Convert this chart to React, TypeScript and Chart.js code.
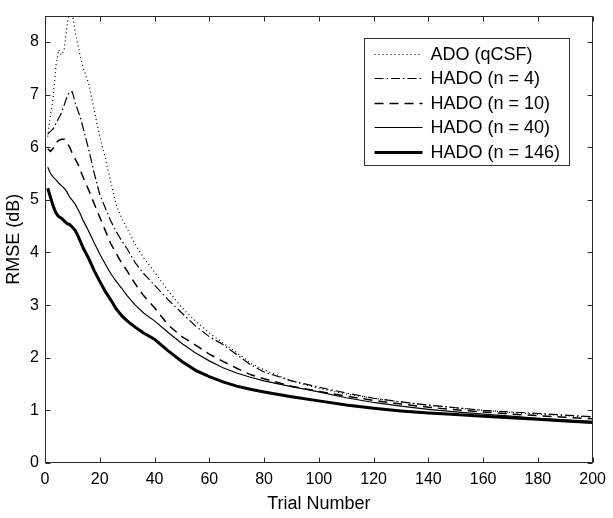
import React, { useEffect, useRef } from "react";
import { Chart, registerables } from "chart.js";

Chart.register(...registerables);

// ---- Data ----
const trials = [1, 2, 3, 4, 5, 6, 7, 8, 9, 10, 11, 12, 13, 14, 15, 16, 18, 20, 22, 24, 26, 28, 30, 33, 36, 40, 45, 50, 55, 60, 65, 70, 75, 80, 90, 100, 110, 120, 130, 140, 150, 160, 170, 180, 190, 200];

const adoQcsf = [6.2, 6.6, 6.95, 7.55, 7.85, 7.75, 7.85, 8.3, 8.6, 8.55, 8.2, 7.95, 7.7, 7.5, 7.35, 7.2, 6.7, 6.2, 5.8, 5.35, 4.9, 4.65, 4.45, 4.15, 3.9, 3.63, 3.27, 2.95, 2.7, 2.47, 2.28, 2.1, 1.9, 1.77, 1.56, 1.42, 1.31, 1.23, 1.16, 1.1, 1.05, 1.0, 0.96, 0.93, 0.9, 0.87];

const hado4 = [6.25, 6.3, 6.35, 6.45, 6.55, 6.65, 6.8, 6.95, 7.05, 7.05, 6.85, 6.7, 6.55, 6.35, 6.15, 5.95, 5.5, 5.1, 4.85, 4.6, 4.4, 4.22, 4.07, 3.8, 3.6, 3.38, 3.1, 2.85, 2.6, 2.4, 2.25, 2.06, 1.87, 1.73, 1.56, 1.44, 1.33, 1.23, 1.16, 1.1, 1.05, 1.0, 0.97, 0.94, 0.91, 0.88];

const hado10 = [5.97, 5.92, 5.98, 6.08, 6.13, 6.15, 6.15, 6.08, 6.0, 5.88, 5.78, 5.68, 5.55, 5.42, 5.3, 5.18, 4.92, 4.67, 4.42, 4.17, 3.98, 3.8, 3.65, 3.4, 3.18, 2.95, 2.62, 2.4, 2.24, 2.07, 1.93, 1.8, 1.68, 1.6, 1.46, 1.36, 1.27, 1.19, 1.12, 1.06, 1.01, 0.97, 0.93, 0.9, 0.87, 0.84];

const hado40 = [5.62, 5.5, 5.43, 5.38, 5.32, 5.27, 5.22, 5.15, 5.05, 4.99, 4.92, 4.82, 4.72, 4.6, 4.5, 4.4, 4.18, 3.97, 3.78, 3.6, 3.45, 3.32, 3.18, 3.0, 2.85, 2.7, 2.48, 2.27, 2.09, 1.94, 1.81, 1.71, 1.63, 1.56, 1.45, 1.35, 1.24, 1.15, 1.08, 1.02, 0.97, 0.93, 0.89, 0.85, 0.82, 0.79];

const hado146 = [5.22, 5.05, 4.88, 4.75, 4.68, 4.65, 4.6, 4.55, 4.53, 4.48, 4.42, 4.32, 4.2, 4.08, 3.98, 3.88, 3.65, 3.45, 3.26, 3.1, 2.93, 2.8, 2.7, 2.58, 2.47, 2.35, 2.13, 1.93, 1.76, 1.64, 1.54, 1.46, 1.4, 1.35, 1.26, 1.18, 1.1, 1.04, 0.99, 0.95, 0.92, 0.89, 0.86, 0.83, 0.8, 0.77];

const seriesLabels = ["ADO (qCSF)", "HADO (n = 4)", "HADO (n = 10)", "HADO (n = 40)", "HADO (n = 146)"];
const xTicks = [0, 20, 40, 60, 80, 100, 120, 140, 160, 180, 200];
const yTicks = [0, 1, 2, 3, 4, 5, 6, 7, 8];
const xTitle = "Trial Number";
const yTitle = "RMSE (dB)";

const FONT = "'Liberation Sans', Arial, Helvetica, sans-serif";

const toPoints = (vals: number[]) => trials.map((t, i) => ({ x: t, y: vals[i] }));

const framePlugin = {
  id: "frameAndLegend",
  afterDatasetsDraw(chart: any) {
    const { ctx, chartArea: a, scales } = chart;
    ctx.save();
    // box
    ctx.strokeStyle = "#2a2a2a";
    ctx.lineWidth = 1;
    ctx.setLineDash([]);
    const l = Math.round(a.left) + 0.5;
    const r = Math.round(a.right) - 0.5;
    const t = Math.round(a.top) + 0.5;
    const b = Math.round(a.bottom) - 0.5;
    ctx.strokeRect(l, t, r - l, b - t);
    // inward ticks on all sides
    const L = 5;
    ctx.beginPath();
    for (const v of xTicks) {
      const x = Math.round(scales.x.getPixelForValue(v)) + 0.5;
      ctx.moveTo(x, b);
      ctx.lineTo(x, b - L);
      ctx.moveTo(x, t);
      ctx.lineTo(x, t + L);
    }
    for (const v of yTicks) {
      const y = Math.round(scales.y.getPixelForValue(v)) + 0.5;
      ctx.moveTo(l, y);
      ctx.lineTo(l + L, y);
      ctx.moveTo(r, y);
      ctx.lineTo(r - L, y);
    }
    ctx.stroke();

    // legend box
    const bw = 205;
    const bh = 127;
    const bx = Math.round(a.right - 24 - bw) + 0.5;
    const by = Math.round(a.top + 22) + 0.5;
    ctx.fillStyle = "#ffffff";
    ctx.fillRect(bx, by, bw, bh);
    ctx.strokeStyle = "#333";
    ctx.lineWidth = 1;
    ctx.strokeRect(bx, by, bw, bh);
    ctx.font = `18px ${FONT}`;
    ctx.textBaseline = "middle";
    ctx.textAlign = "left";
    chart.data.datasets.forEach((ds: any, i: number) => {
      const y = Math.round(by + 15 + i * 24.5) + 0.5;
      ctx.save();
      ctx.strokeStyle = ds.borderColor;
      ctx.lineWidth = ds.borderWidth;
      ctx.setLineDash(ds.borderDash || []);
      ctx.beginPath();
      ctx.moveTo(bx + 10, y);
      ctx.lineTo(bx + 58, y);
      ctx.stroke();
      ctx.restore();
      ctx.fillStyle = "#000";
      ctx.fillText(ds.label, bx + 66, y + 1);
    });
    ctx.restore();
  },
};

export default function App() {
  const canvasRef = useRef<HTMLCanvasElement | null>(null);

  useEffect(() => {
    document.body.style.margin = "0";
    const canvas = canvasRef.current;
    if (!canvas) return;
    const styles = [
      { dash: [1, 3], width: 1.2 },
      { dash: [9, 3, 1.5, 3], width: 1.2 },
      { dash: [9, 6], width: 1.5 },
      { dash: [], width: 1.2 },
      { dash: [], width: 3 },
    ];
    const values = [adoQcsf, hado4, hado10, hado40, hado146];
    const chart = new Chart(canvas, {
      type: "line",
      data: {
        datasets: values.map((v, i) => ({
          label: seriesLabels[i],
          data: toPoints(v),
          borderColor: "#000000",
          backgroundColor: "#000000",
          borderWidth: styles[i].width,
          borderDash: styles[i].dash,
          pointRadius: 0,
          tension: 0,
          fill: false,
        })),
      },
      options: {
        responsive: false,
        animation: false,
        devicePixelRatio: 1,
        layout: { padding: { top: 6, right: 19, left: 0, bottom: 0 } },
        plugins: {
          legend: { display: false },
          tooltip: { enabled: false },
        },
        scales: {
          x: {
            type: "linear",
            min: 0,
            max: 200,
            afterBuildTicks: (s: any) => {
              s.ticks = xTicks.map((v) => ({ value: v }));
            },
            afterFit: (s: any) => {
              s.height = 55;
            },
            grid: { display: false, drawTicks: false },
            border: { display: false },
            ticks: {
              color: "#000",
              padding: 7,
              maxRotation: 0,
              autoSkip: false,
              font: { family: FONT, size: 16 },
            },
            title: {
              display: true,
              text: xTitle,
              color: "#000",
              font: { family: FONT, size: 18 },
              padding: { top: 2, bottom: 3 },
            },
          },
          y: {
            type: "linear",
            min: 0,
            max: 8.5,
            afterBuildTicks: (s: any) => {
              s.ticks = yTicks.map((v) => ({ value: v }));
            },
            afterFit: (s: any) => {
              s.width = 45;
            },
            grid: { display: false, drawTicks: false },
            border: { display: false },
            ticks: {
              color: "#000",
              padding: 6,
              autoSkip: false,
              font: { family: FONT, size: 16 },
            },
            title: {
              display: true,
              text: yTitle,
              color: "#000",
              font: { family: FONT, size: 18 },
              padding: { top: 3, bottom: 2 },
            },
          },
        },
      },
      plugins: [framePlugin],
    } as any);
    return () => chart.destroy();
  }, []);

  return (
    <div style={{ position: "absolute", left: 0, top: 0, width: 613, height: 518, background: "#fff" }}>
      <canvas ref={canvasRef} width={613} height={518} style={{ width: 613, height: 518, display: "block" }} />
    </div>
  );
}
